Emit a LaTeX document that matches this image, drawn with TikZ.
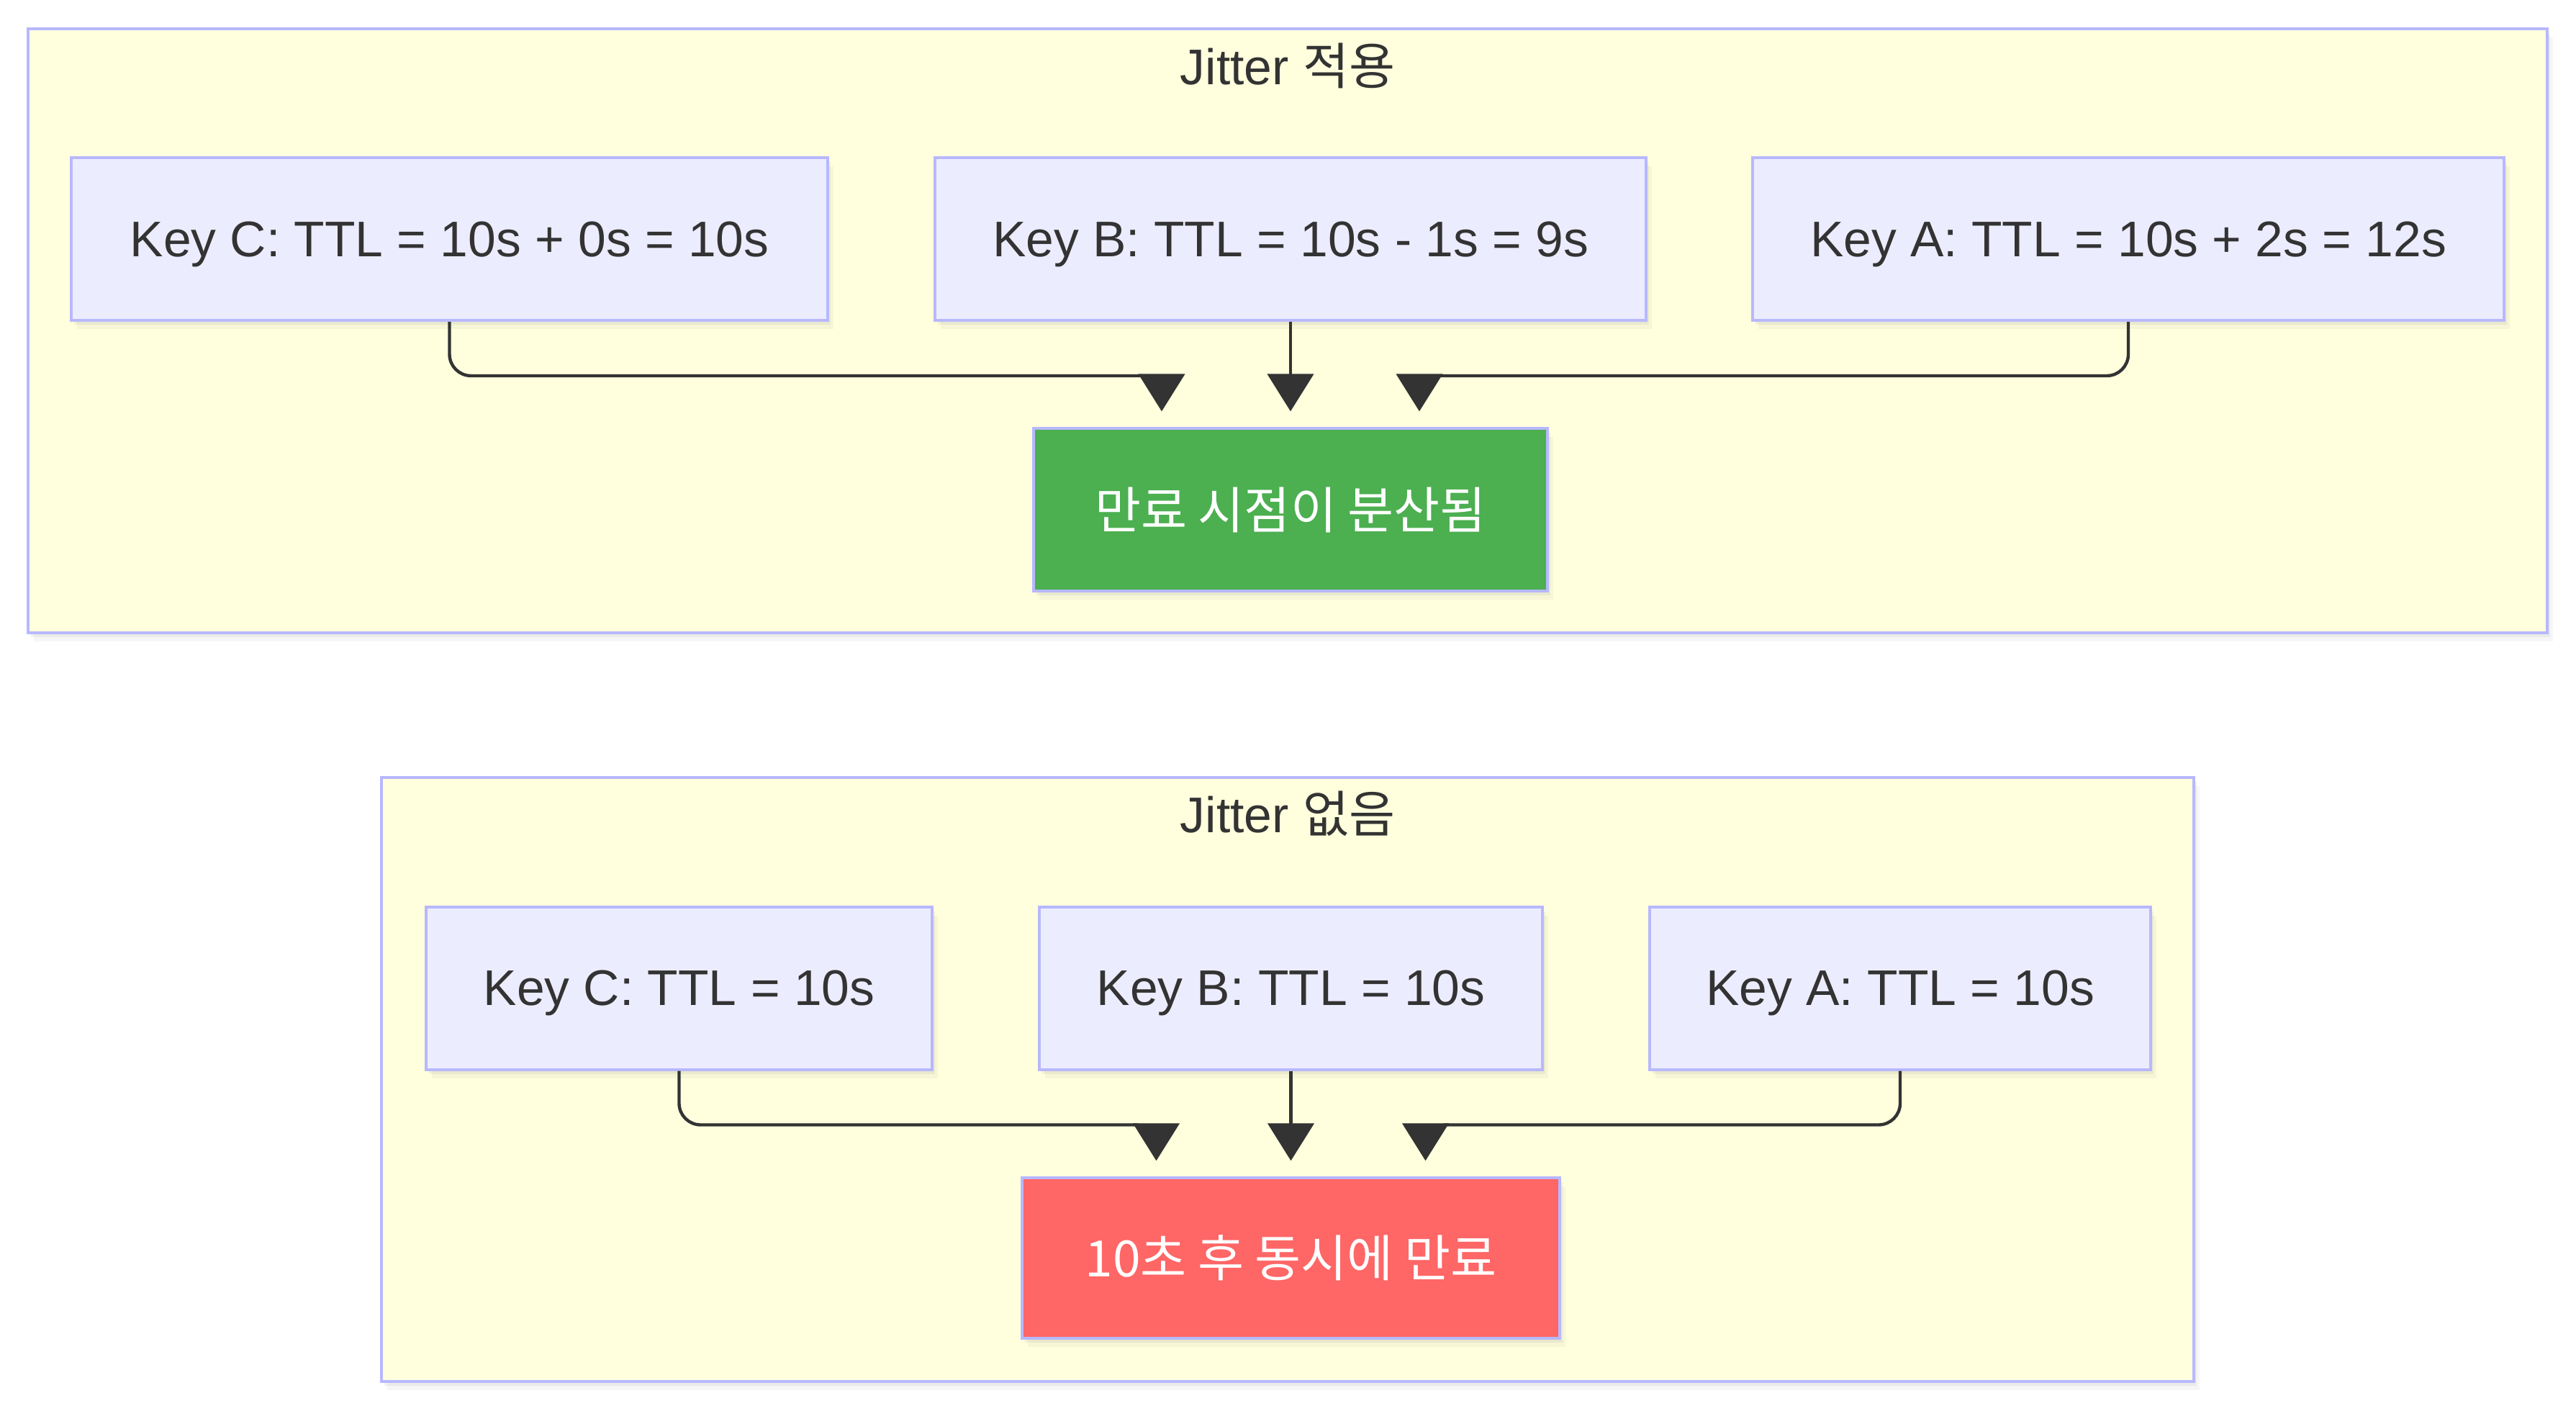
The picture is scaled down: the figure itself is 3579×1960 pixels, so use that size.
\documentclass[tikz,border=0pt]{standalone}
\usepackage{fontspec}
\setmainfont{Liberation Sans}
\newfontfamily\krfont{Noto Sans CJK KR}
\usetikzlibrary{arrows.meta,shadows}

\definecolor{clusterfill}{HTML}{FFFFDE}
\definecolor{lavender}{HTML}{B8B8FF}
\definecolor{keyfill}{HTML}{ECECFF}
\definecolor{spreadgreen}{HTML}{4CAF50}
\definecolor{expirered}{HTML}{FF6666}
\definecolor{ink}{HTML}{333333}

\tikzset{every picture/.style={line width=0.75pt}}
\tikzset{
  soft shade/.style={drop shadow={shadow xshift=1pt,shadow yshift=-1.5pt,opacity=0.1},
                     drop shadow={shadow xshift=2pt,shadow yshift=-3pt,opacity=0.07}},
  cluster/.style={draw=lavender,fill=clusterfill,line width=1pt,soft shade},
  basebox/.style={rectangle,draw=lavender,line width=1pt,inner sep=0pt,
                 minimum height=56.5pt,font=\fontsize{17.4}{21}\selectfont,soft shade},
  keybox/.style={basebox,fill=keyfill,text=ink,text depth=0pt},
  resultbox/.style={basebox,text=white},
  title/.style={inner sep=0pt,text=ink,font=\fontsize{17.4}{21}\selectfont},
  flow/.style={draw=ink,line width=1.1pt,rounded corners=7.5pt,shorten >=5.4pt,
               -{Triangle[length=13pt,width=16pt]}}
}

\begin{document}
\begin{tikzpicture}[x=0.25pt,y=0.25pt,yscale=-1,xscale=1]
\useasboundingbox (0,0) rectangle (3579,1960);

%Shape: Rectangle (Jitter on)
\draw [cluster] (39,40) rectangle (3539,879);
% Text Node
\node [title] (titleOn) at (1789,91) {Jitter {\krfont 적용}};

% Key Nodes
\node [keybox,minimum width=262.75pt] (keyCj) at (624.5,332) {Key C: TTL = 10s + 0s = 10s};
\node [keybox,minimum width=247pt] (keyBj) at (1793,332) {Key B: TTL = 10s - 1s = 9s};
\node [keybox,minimum width=261pt] (keyAj) at (2957,332) {Key A: TTL = 10s + 2s = 12s};
% Result Node
\node [resultbox,fill=spreadgreen,minimum width=178.5pt] (spread) at (1793,708) {\krfont 만료 시점이 분산됨};

%Straight Lines
\draw [flow] (keyCj.south) -- ++(0,75) -| ([xshift=-44.75pt]spread.north);
\draw [flow] (keyBj.south) -- (spread.north);
\draw [flow] (keyAj.south) -- ++(0,75) -| ([xshift=44.75pt]spread.north);

%Shape: Rectangle (Jitter off)
\draw [cluster] (530,1080) rectangle (3048,1919);
% Text Node
\node [title] (titleOff) at (1789,1130) {Jitter {\krfont 없음}};

% Key Nodes
\node [keybox,minimum width=175.75pt] (keyCn) at (943.5,1372.5) {Key C: TTL = 10s};
\node [keybox,minimum width=174.75pt] (keyBn) at (1793.5,1372.5) {Key B: TTL = 10s};
\node [keybox,minimum width=174pt] (keyAn) at (2640,1372.5) {Key A: TTL = 10s};
% Result Node
\node [resultbox,fill=expirered,minimum width=186.75pt,minimum height=55.75pt] (expire) at (1793.5,1747.5) {\krfont 10초 후 동시에 만료};

%Straight Lines
\draw [flow] (keyCn.south) -- ++(0,75) -| ([xshift=-46.75pt]expire.north);
\draw [flow] (keyBn.south) -- (expire.north);
\draw [flow] (keyAn.south) -- ++(0,75) -| ([xshift=46.75pt]expire.north);

\end{tikzpicture}
\end{document}
